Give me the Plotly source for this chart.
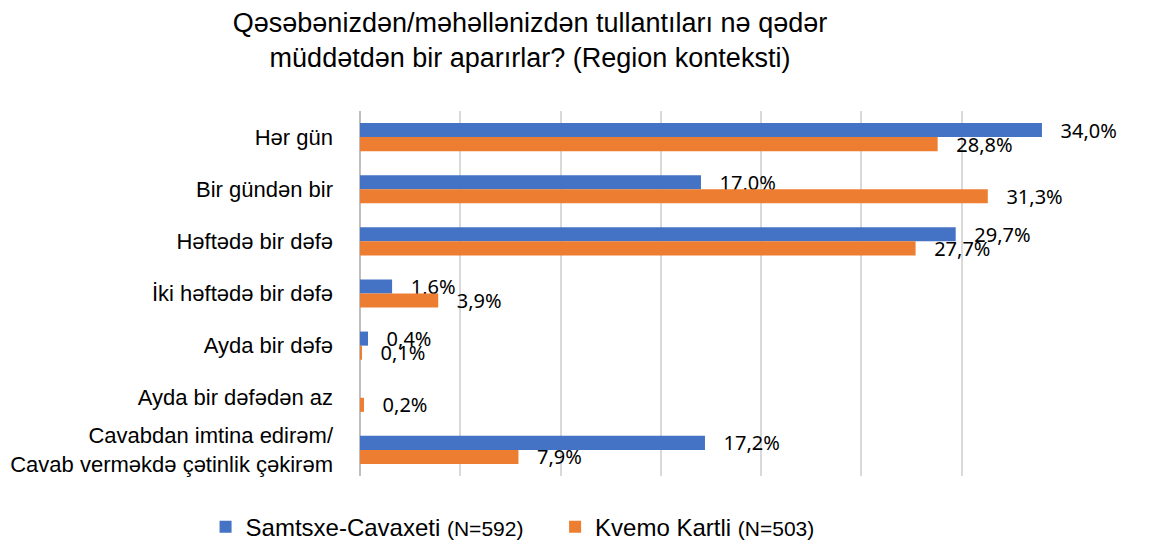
import plotly.graph_objects as go

categories = [
    "Hər gün",
    "Bir gündən bir",
    "Həftədə bir dəfə",
    "İki həftədə bir dəfə",
    "Ayda bir dəfə",
    "Ayda bir dəfədən az",
    "Cavabdan imtina edirəm/<br>Cavab verməkdə çətinlik çəkirəm",
]
samtsxe = [34.0, 17.0, 29.7, 1.6, 0.4, None, 17.2]
kvemo = [28.8, 31.3, 27.7, 3.9, 0.1, 0.2, 7.9]

series_names = [
    "Samtsxe-Cavaxeti <span style='font-size:21px'>(N=592)</span>\u00a0\u00a0\u00a0\u00a0",
    "Kvemo Kartli <span style='font-size:21px'>(N=503)</span>",
]
colors = ["#4472C4", "#ED7D31"]

PAD = "\u00a0\u00a0\u00a0"


def fmt(v):
    return "" if v is None else PAD + f"{v:.1f}%".replace(".", ",")


fig = go.Figure()
for name, vals, col in zip(series_names, [samtsxe, kvemo], colors):
    fig.add_trace(go.Bar(
        y=categories, x=vals, orientation="h", name=name,
        marker=dict(color=col, line=dict(width=0)),
        text=[fmt(v) for v in vals], textposition="outside",
        textfont=dict(family="Noto Sans, sans-serif", size=20, color="#000000"),
        constraintext="none", cliponaxis=False,
    ))

# page body has an 8px margin, so figure coords = screenshot coords - 8
fig.update_layout(
    width=1165, height=544,
    barmode="group", bargap=0.46, bargroupgap=0,
    plot_bgcolor="white", paper_bgcolor="white",
    margin=dict(l=352, r=111, t=103, b=76, autoexpand=False),
    font=dict(family="Liberation Sans, Arial, sans-serif", color="#000000"),
    title=dict(
        text="Qəsəbənizdən/məhəllənizdən tullantıları nə qədər<br>müddətdən bir aparırlar? (Region konteksti)",
        x=522 / 1165, xanchor="center", xref="container",
        y=1 - 24 / 544, yanchor="middle", yref="container",
        font=dict(size=27, color="#000000"),
    ),
    xaxis=dict(
        range=[0, 35], dtick=5, showticklabels=False,
        showgrid=True, gridcolor="#D9D9D9", gridwidth=1.5,
        zeroline=True, zerolinecolor="#BFBFBF", zerolinewidth=1.5,
        fixedrange=True, automargin=False,
    ),
    yaxis=dict(
        autorange="reversed", showgrid=False, ticks="",
        tickfont=dict(size=22, color="#000000"),
        ticklabelstandoff=26, automargin=False,
    ),
    legend=dict(
        orientation="h", x=-0.22, xanchor="left", y=-0.14, yanchor="middle",
        font=dict(size=24, color="#000000"),
        traceorder="normal", itemwidth=30,
    ),
)

fig.write_html("out.html")
